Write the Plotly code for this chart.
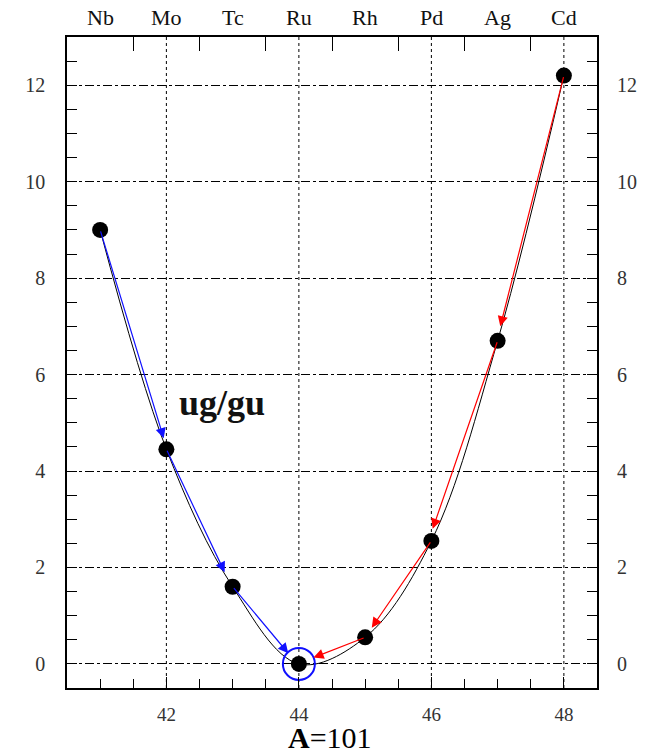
import plotly.graph_objects as go

# Data
z_vals = [41, 42, 43, 44, 45, 46, 47, 48]
elements = ["Nb", "Mo", "Tc", "Ru", "Rh", "Pd", "Ag", "Cd"]
mass_excess = [9.0, 4.45, 1.6, 0.0, 0.55, 2.55, 6.7, 12.2]

# decay arrows (tail -> tip)
blue_tail_x = [41.0, 42.0, 43.0]
blue_tail_y = [9.0, 4.45, 1.6]
blue_tip_x = [41.96, 42.88, 43.84]
blue_tip_y = [4.68, 1.9, 0.22]

red_tail_x = [48.0, 47.0, 46.0, 45.0]
red_tail_y = [12.2, 6.7, 2.55, 0.55]
red_tip_x = [47.04, 46.02, 45.1, 44.22]
red_tip_y = [7.0, 2.8, 0.75, 0.13]

stable_x = [44]
stable_y = [0.0]

bottom_major = [42, 44, 46, 48]
bottom_minor = [41, 41.5, 42.5, 43, 43.5, 44.5, 45, 45.5, 46.5, 47, 47.5]
top_minor = [41.5, 42.5, 43.5, 44.5, 45.5, 46.5, 47.5]

FONT = "Liberation Serif"

fig = go.Figure()

fig.add_trace(go.Scatter(x=z_vals, y=mass_excess, mode="lines",
                         line=dict(color="black", width=1, shape="spline", smoothing=1.0),
                         showlegend=False, hoverinfo="skip"))
fig.add_trace(go.Scatter(x=z_vals, y=mass_excess, mode="markers",
                         marker=dict(color="black", size=16, symbol="circle"),
                         showlegend=False))
fig.add_trace(go.Scatter(x=stable_x, y=stable_y, mode="markers",
                         marker=dict(color="#1010ff", size=32, symbol="circle-open",
                                     line=dict(color="#1010ff", width=2)),
                         showlegend=False))
# invisible traces for secondary axes
for xa, ya in (("x2", "y"), ("x3", "y"), ("x", "y2")):
    fig.add_trace(go.Scatter(x=z_vals, y=mass_excess, xaxis=xa, yaxis=ya, mode="markers",
                             marker=dict(opacity=0), showlegend=False, hoverinfo="skip"))

# vertical dotted grid lines at the labelled ticks
for gx in bottom_major:
    fig.add_shape(type="line", x0=gx, x1=gx, y0=0, y1=1, xref="x", yref="paper",
                  line=dict(color="black", width=1, dash="dot"), layer="below")

annotations = []
for tx, ty, hx, hy in zip(blue_tail_x, blue_tail_y, blue_tip_x, blue_tip_y):
    annotations.append(dict(x=hx, y=hy, ax=tx, ay=ty, xref="x", yref="y", axref="x", ayref="y",
                            text="", showarrow=True, arrowhead=2, arrowsize=1.7, arrowwidth=1.2,
                            arrowcolor="#1010ff", standoff=0, startstandoff=0))
for tx, ty, hx, hy in zip(red_tail_x, red_tail_y, red_tip_x, red_tip_y):
    annotations.append(dict(x=hx, y=hy, ax=tx, ay=ty, xref="x", yref="y", axref="x", ayref="y",
                            text="", showarrow=True, arrowhead=2, arrowsize=1.7, arrowwidth=1.2,
                            arrowcolor="#ff0000", standoff=0, startstandoff=0))

# element names along the top
for zx, el in zip(z_vals, elements):
    annotations.append(dict(x=zx, y=1.0, xref="x", yref="paper", yshift=20, text=el,
                            showarrow=False, yanchor="middle",
                            font=dict(family=FONT, size=22, color="#111")))

annotations.append(dict(x=42.16, y=5.4, xref="x", yref="y", text="<b>ug/gu</b>", showarrow=False,
                        xanchor="left", font=dict(family=FONT, size=36, color="#111")))
annotations.append(dict(x=0.497, y=-0.076, xref="paper", yref="paper",
                        text="<b>A</b>=101",
                        showarrow=False, yanchor="middle",
                        font=dict(family=FONT, size=30, color="black")))

xr = [40.5, 48.5]
yr = [-0.5, 13.0]

fig.update_layout(
    template="none",
    width=658, height=756,
    margin=dict(l=67, r=61, t=37, b=68),
    plot_bgcolor="white", paper_bgcolor="white",
    annotations=annotations,
    font=dict(family=FONT, size=19, color="#222"),
    xaxis=dict(range=xr, tickmode="array", tickvals=bottom_major,
               ticks="inside", ticklen=11, tickcolor="black", tickwidth=1.2,
               showgrid=False,
               zeroline=False, showline=True, linecolor="black", linewidth=1.5,
               mirror=True, ticklabelstandoff=8,
               tickfont=dict(family=FONT, size=19, color="#333")),
    xaxis3=dict(range=xr, overlaying="x", side="bottom", anchor="y", tickmode="array",
                tickvals=bottom_minor, ticks="inside", ticklen=9, tickcolor="black",
                tickwidth=1.2, showgrid=False, zeroline=False, showline=False,
                showticklabels=False),
    xaxis2=dict(range=xr, overlaying="x", side="top", anchor="y", tickmode="array",
                tickvals=top_minor, ticks="inside", ticklen=14, tickcolor="black",
                tickwidth=1.2, showgrid=False, zeroline=False, showline=False,
                showticklabels=False),
    yaxis=dict(range=yr, tickmode="linear", tick0=0, dtick=2,
               ticks="inside", ticklen=10, tickcolor="black",
               showgrid=True, gridcolor="black", gridwidth=1, griddash="dashdot",
               zeroline=False, showline=True, linecolor="black", linewidth=1.5,
               mirror=True, ticklabelstandoff=16,
               tickfont=dict(family=FONT, size=20, color="#333"),
               minor=dict(tickmode="linear", tick0=0, dtick=0.5, ticks="inside",
                          ticklen=10, tickcolor="black", showgrid=False)),
    yaxis2=dict(range=yr, overlaying="y", side="right", tickmode="linear", tick0=0, dtick=2,
                ticks="inside", ticklen=10, tickcolor="black", showgrid=False,
                zeroline=False, showline=False, ticklabelstandoff=19,
                tickfont=dict(family=FONT, size=20, color="#333"),
                minor=dict(tickmode="linear", tick0=0, dtick=0.5, ticks="inside",
                           ticklen=10, tickcolor="black", showgrid=False)),
)

fig.write_html("out.html")
